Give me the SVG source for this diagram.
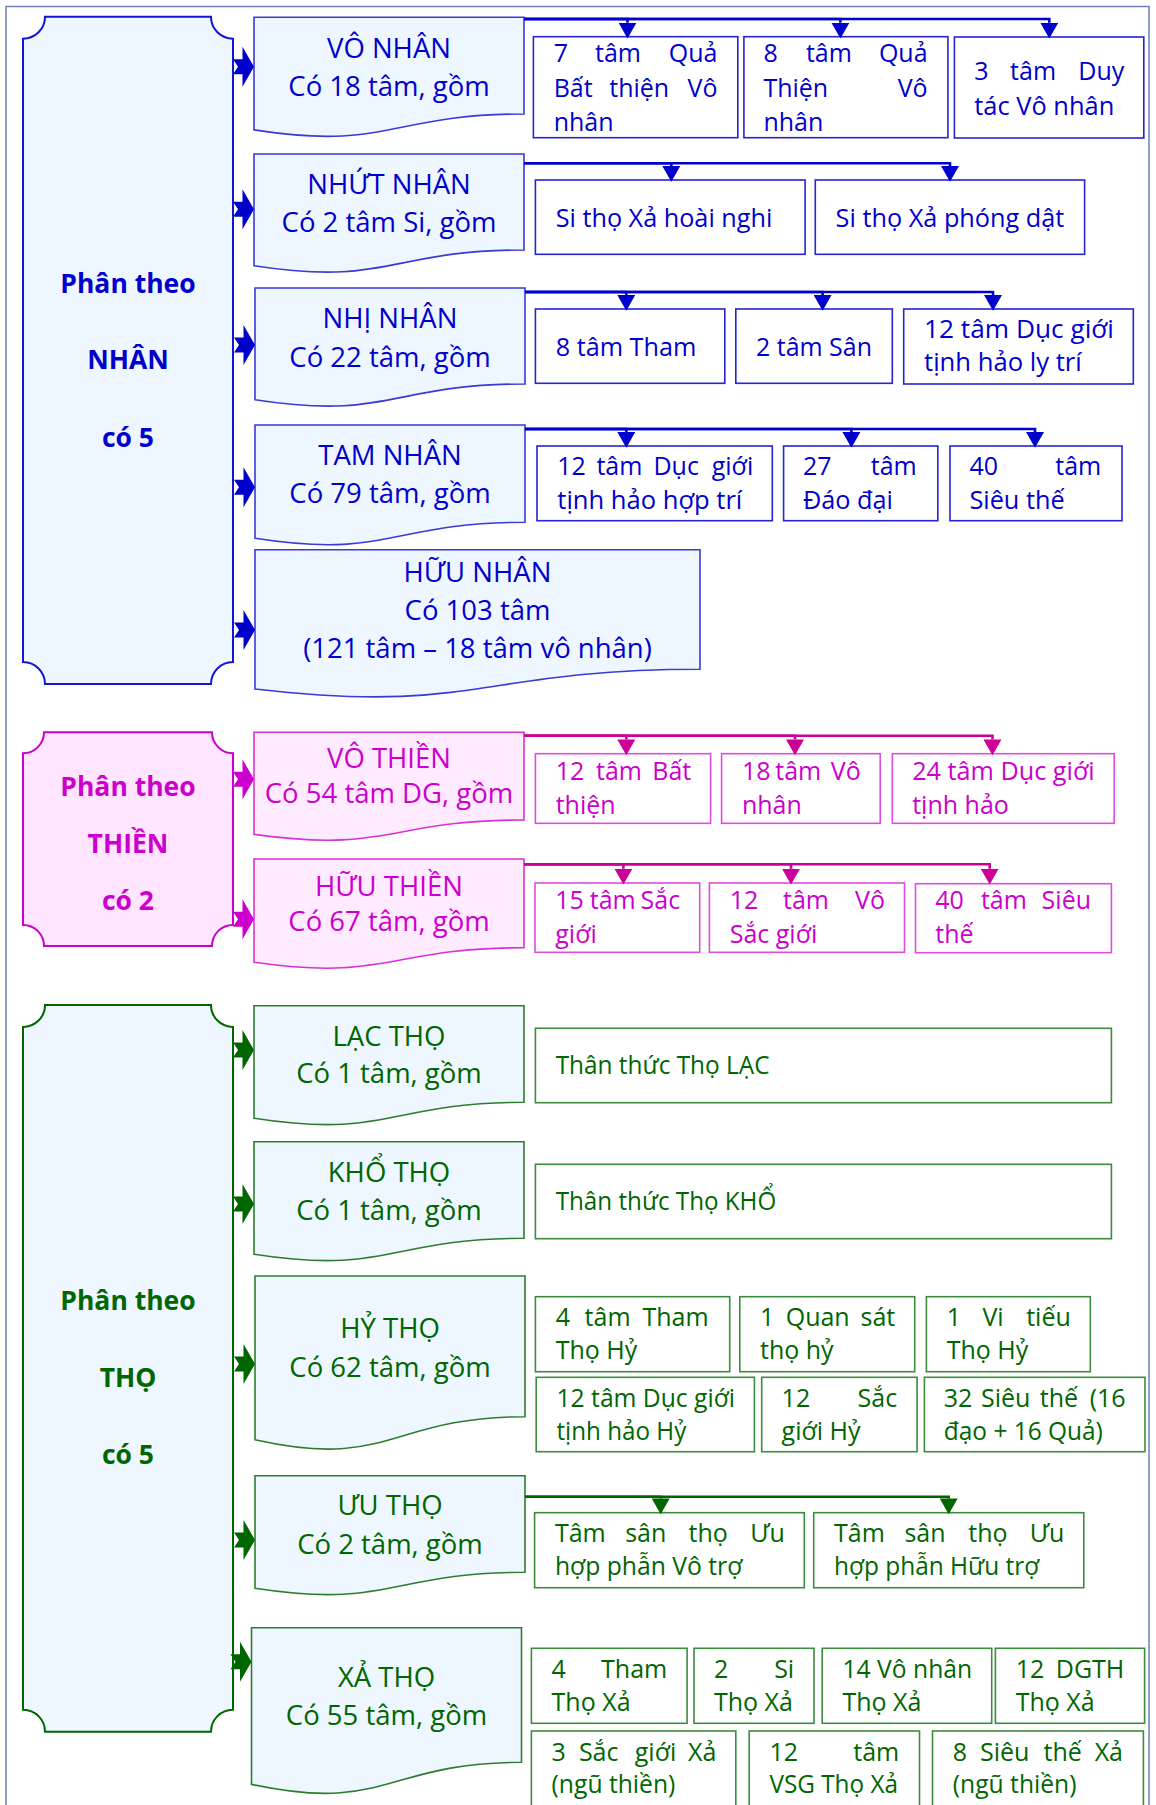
<svg xmlns="http://www.w3.org/2000/svg" width="1156" height="1805" viewBox="0 0 1156 1805">
<style>
text{font-family:"Open Sans","Noto Sans","DejaVu Sans",sans-serif}
.h{font-size:26.5px;font-weight:bold;text-anchor:middle}
.m{font-size:27.5px;text-anchor:middle}
.c{font-size:25px}
.e{text-anchor:end}
.mid{text-anchor:middle}
.b{fill:#0000CC}.p{fill:#CC00CC}.g{fill:#006600}
.plB{fill:#EEF6FF;stroke:#1515CF;stroke-width:2}
.plP{fill:#FFE5FF;stroke:#CC00CC;stroke-width:2}
.plG{fill:#EEF6FF;stroke:#006600;stroke-width:2}
.dB{fill:#EEF6FF;stroke:#3A3AD6;stroke-width:1.6}
.dP{fill:#FFEBFF;stroke:#D633D6;stroke-width:1.6}
.dG{fill:#EEF6FF;stroke:#2E7D2E;stroke-width:1.6}
.kB{fill:#fff;stroke:#2424D4;stroke-width:1.6}
.kP{fill:#fff;stroke:#E04CE0;stroke-width:1.6}
.kG{fill:#fff;stroke:#3D8B3D;stroke-width:1.6}
.lB{fill:none;stroke:#0000CC;stroke-width:2.6}
.lP{fill:none;stroke:#CC0099;stroke-width:2.6}
.lG{fill:none;stroke:#006600;stroke-width:2.6}
</style>
<defs>
<marker id="mB" markerUnits="userSpaceOnUse" markerWidth="16" markerHeight="18" viewBox="0 -8 14 16" refX="0" refY="0" orient="auto"><path d="M0,-8 L14,0 L0,8 Z" fill="#0000CC"/></marker>
<marker id="mP" markerUnits="userSpaceOnUse" markerWidth="16" markerHeight="18" viewBox="0 -8 14 16" refX="0" refY="0" orient="auto"><path d="M0,-8 L14,0 L0,8 Z" fill="#CC0099"/></marker>
<marker id="mG" markerUnits="userSpaceOnUse" markerWidth="16" markerHeight="18" viewBox="0 -8 14 16" refX="0" refY="0" orient="auto"><path d="M0,-8 L14,0 L0,8 Z" fill="#006600"/></marker>
<path id="arw" d="M-21,-7.5 L-11.5,-7.5 L-11.5,-20 L0,0 L-11.5,20 L-11.5,7.5 L-21,7.5 L-16,0 Z"/>
</defs>

<rect x="6" y="6.5" width="1143" height="1820" fill="none" stroke="#6C7FBF" stroke-width="1.5"/>

<!-- ===== Section 1: NHÂN ===== -->
<g id="nhan-root">
<path class="plB" d="M45,16.7 H211 A22,22 0 0 0 233,38.7 V662 A22,22 0 0 0 211,684 H45 A22,22 0 0 0 23,662 V38.7 A22,22 0 0 0 45,16.7 Z"/>
<text class="h b" x="128" y="292.7">Phân theo</text>
<text class="h b" x="128" y="369">NHÂN</text>
<text class="h b" x="128" y="446.7">có 5</text>
</g>
<g id="vo-nhan">
<path class="dB" d="M254,17.3 H524 V114 C389,114 389,150.9 254,129.9 Z"/>
<text class="m b" x="389" y="58.3">VÔ NHÂN</text>
<text class="m b" x="389" y="96">Có 18 tâm, gồm</text>
</g>
<g id="nhut-nhan">
<path class="dB" d="M254,154 H524 V250 C389,250 389,286.6 254,265.8 Z"/>
<text class="m b" x="389" y="194">NHỨT NHÂN</text>
<text class="m b" x="389" y="232.3">Có 2 tâm Si, gồm</text>
</g>
<g id="nhi-nhan">
<path class="dB" d="M255,288 H525 V384 C390,384 390,420.6 255,399.8 Z"/>
<text class="m b" x="390" y="328.3">NHỊ NHÂN</text>
<text class="m b" x="390" y="366.7">Có 22 tâm, gồm</text>
</g>
<g id="tam-nhan">
<path class="dB" d="M255,425 H525 V522.3 C390,522.3 390,559.4 255,538.3 Z"/>
<text class="m b" x="390" y="465">TAM NHÂN</text>
<text class="m b" x="390" y="503.3">Có 79 tâm, gồm</text>
</g>
<g id="huu-nhan">
<path class="dB" d="M255,549.7 H700 V669.3 C477.5,669.3 477.5,714.8 255,689 Z"/>
<text class="m b" x="477.5" y="581.7">HỮU NHÂN</text>
<text class="m b" x="477.5" y="620">Có 103 tâm</text>
<text class="m b" x="477.5" y="658.3">(121 tâm – 18 tâm vô nhân)</text>
</g>
<g id="n1a">
<rect class="kB" x="533.4" y="36.7" width="204.4" height="101"/>
<text class="c b" x="553.7" y="61.7">7</text><text class="c b mid" x="618" y="61.7">tâm</text><text class="c b e" x="717.5" y="61.7">Quả</text>
<text class="c b" x="553.7" y="96.7">Bất</text><text class="c b mid" x="639.2" y="96.7">thiện</text><text class="c b e" x="717.5" y="96.7">Vô</text>
<text class="c b" x="553.7" y="131">nhân</text>
</g>
<g id="n1b">
<rect class="kB" x="743.9" y="36.7" width="204" height="101"/>
<text class="c b" x="763.4" y="61.7">8</text><text class="c b mid" x="828.9" y="61.7">tâm</text><text class="c b e" x="927.6" y="61.7">Quả</text>
<text class="c b" x="763.4" y="96.7">Thiện</text><text class="c b e" x="927.6" y="96.7">Vô</text>
<text class="c b" x="763.4" y="131">nhân</text>
</g>
<g id="n1c">
<rect class="kB" x="954.4" y="37" width="189.4" height="101"/>
<text class="c b" x="974.3" y="80">3</text><text class="c b mid" x="1033.1" y="80">tâm</text><text class="c b e" x="1124.3" y="80">Duy</text>
<text class="c b" x="974.3" y="115" textLength="140" lengthAdjust="spacingAndGlyphs">tác Vô nhân</text>
</g>
<g id="n2a">
<rect class="kB" x="535.4" y="180" width="269.7" height="74.3"/>
<text class="c b" x="555.7" y="226.7" textLength="216.6" lengthAdjust="spacingAndGlyphs">Si thọ Xả hoài nghi</text>
</g>
<g id="n2b">
<rect class="kB" x="815.3" y="180" width="269.3" height="74.3"/>
<text class="c b" x="835.6" y="226.7" textLength="228.8" lengthAdjust="spacingAndGlyphs">Si thọ Xả phóng dật</text>
</g>
<g id="n3a">
<rect class="kB" x="535.4" y="309" width="189.4" height="74.3"/>
<text class="c b" x="555.7" y="356" textLength="140.7" lengthAdjust="spacingAndGlyphs">8 tâm Tham</text>
</g>
<g id="n3b">
<rect class="kB" x="735.8" y="309" width="156.5" height="74.3"/>
<text class="c b" x="756" y="356" textLength="116" lengthAdjust="spacingAndGlyphs">2 tâm Sân</text>
</g>
<g id="n3c">
<rect class="kB" x="903.7" y="309" width="229.6" height="75"/>
<text class="c b" x="924" y="338.3" textLength="190" lengthAdjust="spacingAndGlyphs">12 tâm Dục giới</text>
<text class="c b" x="924" y="370.7" textLength="157.8" lengthAdjust="spacingAndGlyphs">tịnh hảo ly trí</text>
</g>
<g id="n4a">
<rect class="kB" x="537" y="446" width="235.3" height="74.7"/>
<text class="c b" x="557.3" y="475">12</text><text class="c b mid" x="619.4" y="475">tâm</text><text class="c b mid" x="676.2" y="475">Dục</text><text class="c b e" x="753.2" y="475">giới</text>
<text class="c b" x="557.3" y="509.3" textLength="185" lengthAdjust="spacingAndGlyphs">tịnh hảo hợp trí</text>
</g>
<g id="n4b">
<rect class="kB" x="783.6" y="446" width="154.2" height="74.7"/>
<text class="c b" x="803" y="475">27</text><text class="c b e" x="916.7" y="475">tâm</text>
<text class="c b" x="803" y="509.3" textLength="90" lengthAdjust="spacingAndGlyphs">Đáo đại</text>
</g>
<g id="n4c">
<rect class="kB" x="950" y="446" width="172" height="74.7"/>
<text class="c b" x="969.4" y="475">40</text><text class="c b e" x="1101.2" y="475">tâm</text>
<text class="c b" x="969.4" y="509.3" textLength="95.3" lengthAdjust="spacingAndGlyphs">Siêu thế</text>
</g>

<!-- ===== Section 2: THIỀN ===== -->
<g id="thien-root">
<path class="plP" d="M44,732.3 H212 A21,21 0 0 0 233,753.3 V925 A21,21 0 0 0 212,946 H44 A21,21 0 0 0 23,925 V753.3 A21,21 0 0 0 44,732.3 Z"/>
<text class="h p" x="128" y="796">Phân theo</text>
<text class="h p" x="128" y="853.3">THIỀN</text>
<text class="h p" x="128" y="910">có 2</text>
</g>
<g id="vo-thien">
<path class="dP" d="M254,732.3 H524 V820 C389,820 389,853.4 254,834.4 Z"/>
<text class="m p" x="389" y="768.3">VÔ THIỀN</text>
<text class="m p" x="389" y="803.3">Có 54 tâm DG, gồm</text>
</g>
<g id="huu-thien">
<path class="dP" d="M254,859 H524 V947.7 C389,947.7 389,981.5 254,962.3 Z"/>
<text class="m p" x="389" y="895.7">HỮU THIỀN</text>
<text class="m p" x="389" y="930.7">Có 67 tâm, gồm</text>
</g>
<g id="t1a">
<rect class="kP" x="535.4" y="753.7" width="175.2" height="69.6"/>
<text class="c p" x="555.7" y="780">12</text><text class="c p mid" x="619" y="780">tâm</text><text class="c p e" x="691.2" y="780">Bất</text>
<text class="c p" x="555.7" y="814.3">thiện</text>
</g>
<g id="t1b">
<rect class="kP" x="721.6" y="753.7" width="158.6" height="69.6"/>
<text class="c p" x="741.9" y="780">18</text><text class="c p mid" x="798.2" y="780">tâm</text><text class="c p e" x="860.7" y="780">Vô</text>
<text class="c p" x="741.9" y="814.3">nhân</text>
</g>
<g id="t1c">
<rect class="kP" x="892.3" y="753.7" width="221.9" height="69.6"/>
<text class="c p" x="912.2" y="780" textLength="182.5" lengthAdjust="spacingAndGlyphs">24 tâm Dục giới</text>
<text class="c p" x="912.2" y="814.3">tịnh hảo</text>
</g>
<g id="t2a">
<rect class="kP" x="535" y="883" width="164.7" height="69.3"/>
<text class="c p" x="555.3" y="909.3">15</text><text class="c p mid" x="612.7" y="909.3">tâm</text><text class="c p e" x="680.2" y="909.3">Sắc</text>
<text class="c p" x="555.3" y="943.3">giới</text>
</g>
<g id="t2b">
<rect class="kP" x="709.4" y="883" width="195.1" height="69.3"/>
<text class="c p" x="729.7" y="909.3">12</text><text class="c p mid" x="806" y="909.3">tâm</text><text class="c p e" x="885" y="909.3">Vô</text>
<text class="c p" x="729.7" y="943.3">Sắc giới</text>
</g>
<g id="t2c">
<rect class="kP" x="915.5" y="883.7" width="195.9" height="69"/>
<text class="c p" x="935.3" y="909.3">40</text><text class="c p mid" x="1003.9" y="909.3">tâm</text><text class="c p e" x="1091" y="909.3">Siêu</text>
<text class="c p" x="935.3" y="943.3">thế</text>
</g>

<!-- ===== Section 3: THỌ ===== -->
<g id="tho-root">
<path class="plG" d="M45,1005 H211 A22,22 0 0 0 233,1027 V1709.7 A22,22 0 0 0 211,1731.7 H45 A22,22 0 0 0 23,1709.7 V1027 A22,22 0 0 0 45,1005 Z"/>
<text class="h g" x="128" y="1310">Phân theo</text>
<text class="h g" x="128" y="1386.7">THỌ</text>
<text class="h g" x="128" y="1464">có 5</text>
</g>
<g id="lac-tho">
<path class="dG" d="M254,1005.7 H524 V1102.3 C389,1102.3 389,1139.1 254,1118.2 Z"/>
<text class="m g" x="389" y="1045.7">LẠC THỌ</text>
<text class="m g" x="389" y="1083.3">Có 1 tâm, gồm</text>
</g>
<g id="kho-tho">
<path class="dG" d="M254,1141.7 H524 V1238.3 C389,1238.3 389,1275.1 254,1254.2 Z"/>
<text class="m g" x="389" y="1181.7">KHỔ THỌ</text>
<text class="m g" x="389" y="1220">Có 1 tâm, gồm</text>
</g>
<g id="hy-tho">
<path class="dG" d="M255,1276 H525 V1416.7 C390,1416.7 390,1470.3 255,1439.8 Z"/>
<text class="m g" x="390" y="1338.3">HỶ THỌ</text>
<text class="m g" x="390" y="1376.7">Có 62 tâm, gồm</text>
</g>
<g id="uu-tho">
<path class="dG" d="M255,1475.7 H525 V1572.3 C390,1572.3 390,1609.1 255,1588.2 Z"/>
<text class="m g" x="390" y="1515">ƯU THỌ</text>
<text class="m g" x="390" y="1554">Có 2 tâm, gồm</text>
</g>
<g id="xa-tho">
<path class="dG" d="M251.5,1627.7 H521.5 V1762.3 C386.5,1762.3 386.5,1813.6 251.5,1784.4 Z"/>
<text class="m g" x="386.5" y="1686.7">XẢ THỌ</text>
<text class="m g" x="386.5" y="1725">Có 55 tâm, gồm</text>
</g>
<g id="lac-child">
<rect class="kG" x="535.4" y="1028.3" width="576" height="74.4"/>
<text class="c g" x="555.7" y="1074" textLength="213.8" lengthAdjust="spacingAndGlyphs">Thân thức Thọ LẠC</text>
</g>
<g id="kho-child">
<rect class="kG" x="535.4" y="1164.3" width="576" height="74.4"/>
<text class="c g" x="555.7" y="1210" textLength="220.6" lengthAdjust="spacingAndGlyphs">Thân thức Thọ KHỔ</text>
</g>
<g id="hy1">
<rect class="kG" x="535.4" y="1296.7" width="194.3" height="75"/>
<text class="c g" x="555.7" y="1326">4</text><text class="c g mid" x="607.6" y="1326">tâm</text><text class="c g e" x="708.6" y="1326">Tham</text>
<text class="c g" x="555.7" y="1359.3">Thọ Hỷ</text>
</g>
<g id="hy2">
<rect class="kG" x="739.8" y="1296.7" width="174.9" height="75"/>
<text class="c g" x="760" y="1326">1</text><text class="c g mid" x="817.7" y="1326">Quan</text><text class="c g e" x="895.2" y="1326">sát</text>
<text class="c g" x="760" y="1359.3">thọ hỷ</text>
</g>
<g id="hy3">
<rect class="kG" x="926.4" y="1296.7" width="163.9" height="75"/>
<text class="c g" x="946.7" y="1326">1</text><text class="c g mid" x="993" y="1326">Vi</text><text class="c g e" x="1070.8" y="1326">tiếu</text>
<text class="c g" x="946.7" y="1359.3">Thọ Hỷ</text>
</g>
<g id="hy4">
<rect class="kG" x="536.2" y="1377.3" width="218.2" height="74.4"/>
<text class="c g" x="556.5" y="1406.7" textLength="178.5" lengthAdjust="spacingAndGlyphs">12 tâm Dục giới</text>
<text class="c g" x="556.5" y="1440" textLength="129.8" lengthAdjust="spacingAndGlyphs">tịnh hảo Hỷ</text>
</g>
<g id="hy5">
<rect class="kG" x="761.7" y="1377.3" width="155.4" height="74.4"/>
<text class="c g" x="781.6" y="1406.7">12</text><text class="c g e" x="897.2" y="1406.7">Sắc</text>
<text class="c g" x="781.6" y="1440">giới Hỷ</text>
</g>
<g id="hy6">
<rect class="kG" x="924.4" y="1377.3" width="220.6" height="74.4"/>
<text class="c g" x="943.8" y="1406.7">32</text><text class="c g mid" x="1005.7" y="1406.7">Siêu</text><text class="c g mid" x="1059" y="1406.7">thế</text><text class="c g e" x="1125.6" y="1406.7">(16</text>
<text class="c g" x="943.8" y="1440" textLength="159" lengthAdjust="spacingAndGlyphs">đạo + 16 Quả)</text>
</g>
<g id="uu1">
<rect class="kG" x="534.6" y="1512.7" width="269.7" height="75"/>
<text class="c g" x="554.9" y="1541.7">Tâm</text><text class="c g mid" x="645.7" y="1541.7">sân</text><text class="c g mid" x="708.2" y="1541.7">thọ</text><text class="c g e" x="784.9" y="1541.7">Ưu</text>
<text class="c g" x="554.9" y="1575" textLength="187.4" lengthAdjust="spacingAndGlyphs">hợp phẫn Vô trợ</text>
</g>
<g id="uu2">
<rect class="kG" x="813.7" y="1512.7" width="270.1" height="75"/>
<text class="c g" x="834" y="1541.7">Tâm</text><text class="c g mid" x="925" y="1541.7">sân</text><text class="c g mid" x="987.9" y="1541.7">thọ</text><text class="c g e" x="1064.3" y="1541.7">Ưu</text>
<text class="c g" x="834" y="1575" textLength="205.2" lengthAdjust="spacingAndGlyphs">hợp phẫn Hữu trợ</text>
</g>
<g id="xa1">
<rect class="kG" x="531.4" y="1648.3" width="155.7" height="75"/>
<text class="c g" x="551.6" y="1678.3">4</text><text class="c g e" x="667.2" y="1678.3">Tham</text>
<text class="c g" x="551.6" y="1711">Thọ Xả</text>
</g>
<g id="xa2">
<rect class="kG" x="694" y="1648.3" width="120" height="75"/>
<text class="c g" x="713.9" y="1678.3">2</text><text class="c g e" x="794.2" y="1678.3">Si</text>
<text class="c g" x="713.9" y="1711">Thọ Xả</text>
</g>
<g id="xa3">
<rect class="kG" x="822.2" y="1648.3" width="169.5" height="75"/>
<text class="c g" x="842.4" y="1678.3" textLength="129.8" lengthAdjust="spacingAndGlyphs">14 Vô nhân</text>
<text class="c g" x="842.4" y="1711">Thọ Xả</text>
</g>
<g id="xa4">
<rect class="kG" x="995.4" y="1648.3" width="149.2" height="75"/>
<text class="c g" x="1015.7" y="1678.3">12</text><text class="c g e" x="1124.3" y="1678.3">DGTH</text>
<text class="c g" x="1015.7" y="1711">Thọ Xả</text>
</g>
<g id="xa5">
<rect class="kG" x="531.4" y="1731" width="204.4" height="90"/>
<text class="c g" x="551.6" y="1761">3</text><text class="c g mid" x="598.7" y="1761">Sắc</text><text class="c g mid" x="655.5" y="1761">giới</text><text class="c g e" x="716.3" y="1761">Xả</text>
<text class="c g" x="551.6" y="1793.3" textLength="123.7" lengthAdjust="spacingAndGlyphs">(ngũ thiền)</text>
</g>
<g id="xa6">
<rect class="kG" x="749.2" y="1731" width="170.3" height="90"/>
<text class="c g" x="769.4" y="1761">12</text><text class="c g e" x="899.2" y="1761">tâm</text>
<text class="c g" x="769.4" y="1793.3" textLength="128.6" lengthAdjust="spacingAndGlyphs">VSG Thọ Xả</text>
</g>
<g id="xa7">
<rect class="kG" x="932.5" y="1731" width="210.9" height="90"/>
<text class="c g" x="952.8" y="1761">8</text><text class="c g mid" x="1004.7" y="1761">Siêu</text><text class="c g mid" x="1062.7" y="1761">thế</text><text class="c g e" x="1123" y="1761">Xả</text>
<text class="c g" x="952.8" y="1793.3" textLength="123.7" lengthAdjust="spacingAndGlyphs">(ngũ thiền)</text>
</g>

<!-- ===== Connectors ===== -->
<g id="connectors">
<g fill="#0000CC">
<use href="#arw" x="254" y="66.7"/>
<use href="#arw" x="254" y="209.3"/>
<use href="#arw" x="255" y="345"/>
<use href="#arw" x="255" y="487.3"/>
<use href="#arw" x="255" y="630"/>
</g>
<g fill="#CC00CC">
<use href="#arw" x="254" y="779.3"/>
<use href="#arw" x="254" y="919.3"/>
</g>
<g fill="#006600">
<use href="#arw" x="254" y="1050"/>
<use href="#arw" x="254" y="1204"/>
<use href="#arw" x="255" y="1364"/>
<use href="#arw" x="255" y="1540"/>
<use href="#arw" x="251.5" y="1661.7"/>
</g>
<g class="lB" marker-end="url(#mB)">
<path d="M524,19 H627.5 V22.7"/>
<path d="M524,19 H840.4 V22.7"/>
<path d="M524,19 H1049.3 V22.7"/>
<path d="M524,163.3 H671.3 V166"/>
<path d="M524,163.3 H950 V166"/>
<path d="M525,292 H626.3 V295"/>
<path d="M525,292 H822.6 V295"/>
<path d="M525,292 H993 V295"/>
<path d="M525,429 H626.3 V432"/>
<path d="M525,429 H851.4 V432"/>
<path d="M525,429 H1035 V432"/>
</g>
<g class="lP" marker-end="url(#mP)">
<path d="M524,735.7 H626.3 V739.5"/>
<path d="M524,735.7 H795 V739.5"/>
<path d="M524,735.7 H992.5 V739.5"/>
<path d="M524,864.3 H623.4 V868.7"/>
<path d="M524,864.3 H791 V868.7"/>
<path d="M524,864.3 H989.7 V868.7"/>
</g>
<g class="lG" marker-end="url(#mG)">
<path d="M525,1496.7 H660.7 V1498.5"/>
<path d="M525,1496.7 H948.7 V1498.5"/>
</g>
</g>
</svg>
